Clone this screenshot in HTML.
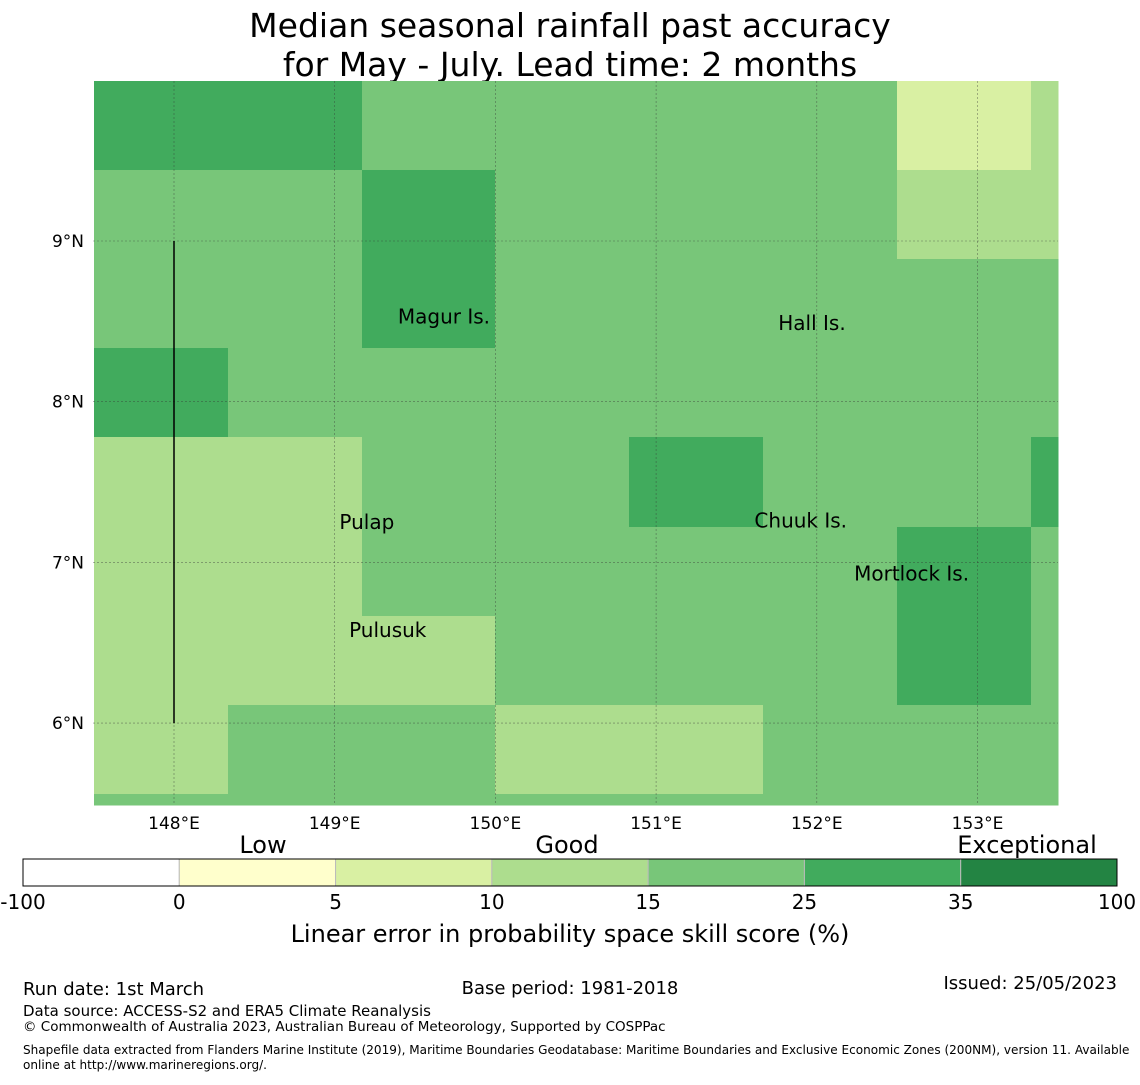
<!DOCTYPE html>
<html><head><meta charset="utf-8"><style>
body{margin:0;background:#fff;font-family:"Liberation Sans","DejaVu Sans",sans-serif;}
svg text{font-family:"DejaVu Sans","Liberation Sans",sans-serif;}
</style></head><body>
<svg id="s" width="1140" height="1080" xmlns="http://www.w3.org/2000/svg">
<text x="570" y="37" font-size="33" text-anchor="middle">Median seasonal rainfall past accuracy</text>
<text x="570" y="76" font-size="33" text-anchor="middle">for May - July. Lead time: 2 months</text>
<g id="map"></g>
<g id="cb"></g>
<text x="263" y="853" font-size="24" text-anchor="middle">Low</text>
<text x="567" y="853" font-size="24" text-anchor="middle">Good</text>
<text x="1027" y="853" font-size="24" text-anchor="middle">Exceptional</text>
<text x="570" y="942" font-size="24" text-anchor="middle">Linear error in probability space skill score (%)</text>
<text x="23" y="995" font-size="18">Run date: 1st March</text>
<text x="570" y="994" font-size="18" text-anchor="middle">Base period: 1981-2018</text>
<text x="1117" y="989" font-size="18" text-anchor="end">Issued: 25/05/2023</text>
<text x="23" y="1016" font-size="15">Data source: ACCESS-S2 and ERA5 Climate Reanalysis</text>
<text x="23" y="1031" font-size="13.5">© Commonwealth of Australia 2023, Australian Bureau of Meteorology, Supported by COSPPac</text>
<text x="23" y="1054" font-size="12.05">Shapefile data extracted from Flanders Marine Institute (2019), Maritime Boundaries Geodatabase: Maritime Boundaries and Exclusive Economic Zones (200NM), version 11. Available</text>
<text x="23" y="1069" font-size="12.05">online at http://www.marineregions.org/.</text>
</svg>
<script>
const lonTicks=[148,149,150,151,152,153];
const latTicks=[9,8,7,6];
const lonEdges=[147.5,148.333,149.167,150,150.833,151.667,152.5,153.333];
const latEdges=[10,9.444,8.889,8.333,7.778,7.222,6.667,6.111,5.556];
const levelColors=["#d9f0a3","#addd8e","#78c679","#41ab5d"];
const cells=[
[3,3,2,2,2,2,0,1],
[2,2,3,2,2,2,1,1],
[2,2,3,2,2,2,2,2],
[3,2,2,2,2,2,2,2],
[1,1,2,2,3,2,2,3],
[1,1,2,2,2,2,3,2],
[1,1,1,2,2,2,3,2],
[1,2,2,1,1,2,2,2],
[2,2,2,2,2,2,2,2]];
const places=[["Magur Is.",149.68,8.53],["Hall Is.",151.97,8.49],["Pulap",149.2,7.25],["Chuuk Is.",151.9,7.26],["Mortlock Is.",152.59,6.93],["Pulusuk",149.33,6.58]];
const cbBounds=["-100","0","5","10","15","25","35","100"];
const cbColors=["#ffffff","#ffffcc","#d9f0a3","#addd8e","#78c679","#41ab5d","#238443"];
const X0=93,X1=1058,Y0=81,Y1=805;
const x=lon=>174+(lon-148)*160.7;
const y=lat=>241+(9-lat)*160.7;
const NS="http://www.w3.org/2000/svg";
function mk(t,a,p){const e=document.createElementNS(NS,t);for(const k in a)e.setAttribute(k,a[k]);p.appendChild(e);return e;}
const map=document.getElementById('map');
for(let r=0;r<cells.length;r++)for(let c=0;c<cells[r].length;c++){
 const xl=Math.round(Math.max(X0,x(lonEdges[c]))),xr=Math.round(c+1<lonEdges.length?x(lonEdges[c+1]):X1);
 const yt=Math.round(Math.max(Y0,y(latEdges[r]))),yb=Math.round(r+1<latEdges.length?y(latEdges[r+1]):Y1);
 const e=mk('rect',{x:xl,y:yt,width:Math.min(X1,xr)-xl+0.5,height:Math.min(Y1,yb)-yt+0.5,fill:levelColors[cells[r][c]],'shape-rendering':'crispEdges'},map);
 
 
}
lonTicks.forEach(l=>{
 const g=mk('line',{x1:x(l),x2:x(l),y1:Y0,y2:Y1,stroke:'#333','stroke-width':0.6,'stroke-dasharray':'2,2','stroke-opacity':0.6},map);
 
 
 const t=mk('text',{x:x(l),y:829,'font-size':17,'text-anchor':'middle'},map);t.textContent=l+'°E';
 
 
});
latTicks.forEach(l=>{
 const g=mk('line',{x1:X0,x2:X1,y1:y(l),y2:y(l),stroke:'#333','stroke-width':0.6,'stroke-dasharray':'2,2','stroke-opacity':0.6},map);
 
 
 const t=mk('text',{x:84,y:y(l)+6,'font-size':17,'text-anchor':'end'},map);t.textContent=l+'°N';
 
 
});
const vl=mk('line',{x1:x(148),x2:x(148),y1:y(9),y2:y(6),stroke:'#000','stroke-width':1.5},map);


places.forEach(p=>{
 const t=mk('text',{x:x(p[1]),y:y(p[2])+7,'font-size':20,'text-anchor':'middle'},map);t.textContent=p[0];
 
 
});
const cb=document.getElementById('cb');
const cx0=23,cx1=1117,w=(cx1-cx0)/cbColors.length;
cbColors.forEach((c,i)=>{
 const e=mk('rect',{x:cx0+i*w,y:859,width:w,height:27,fill:c,stroke:'#bbb','stroke-width':1},cb);
 
 
});
mk('rect',{x:cx0,y:859,width:cx1-cx0,height:27,fill:'none',stroke:'#000','stroke-width':1},cb);
cbBounds.forEach((b,i)=>{
 const t=mk('text',{x:cx0+i*w,y:909,'font-size':20,'text-anchor':'middle'},cb);t.textContent=b;
 
 
});
</script>
</body></html>
